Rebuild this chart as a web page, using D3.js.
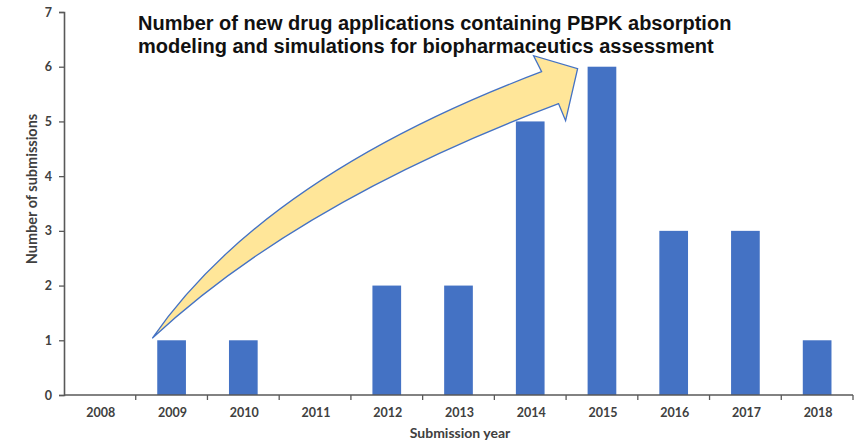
<!DOCTYPE html>
<html>
<head>
<meta charset="utf-8">
<script src="https://cdn.jsdelivr.net/npm/d3@7"></script>
<style>
  html, body { margin: 0; padding: 0; background: #fff; }
  svg { display: block; }
</style>
</head>
<body>
<svg id="chart" width="868" height="445"></svg>
<script>
const years = ["2008","2009","2010","2011","2012","2013","2014","2015","2016","2017","2018"];
const submissions = [0, 1, 1, 0, 2, 2, 5, 6, 3, 3, 1];
const yTicks = [0, 1, 2, 3, 4, 5, 6, 7];
const titleLines = [
  "Number of new drug applications containing PBPK absorption",
  "modeling and simulations for biopharmaceutics assessment"
];
const xTitle = "Submission year";
const yTitle = "Number of submissions";

(function () {
const svg = d3.select("#chart");
const mLeft = 64, mRight = 853, mTop = 12, mBottom = 395;

const x = d3.scaleBand().domain(years).range([mLeft, mRight]).paddingInner(0.6).paddingOuter(0.3);
const y = d3.scaleLinear().domain([0, 7]).range([mBottom, mTop]);

const axisColor = "#595959";
const labelColor = "#404040";
const font = "Lato, 'Open Sans', sans-serif";

// bars
svg.append("g").selectAll("rect").data(years).join("rect")
  .attr("x", d => x(d))
  .attr("width", x.bandwidth())
  .attr("y", (d, i) => y(submissions[i]))
  .attr("height", (d, i) => y(0) - y(submissions[i]))
  .attr("fill", "#4472C4");

// y axis
const yAxis = svg.append("g").attr("transform", `translate(${mLeft},0)`)
  .call(d3.axisLeft(y).tickValues(yTicks).tickSize(5).tickPadding(7).tickFormat(d3.format("d")));
yAxis.select(".domain").attr("stroke", axisColor).attr("stroke-width", 1.6);
yAxis.selectAll(".tick line").attr("stroke", axisColor).attr("stroke-width", 1.3);
yAxis.selectAll(".tick text").attr("fill", labelColor).attr("font-family", font)
  .attr("font-weight", "bold").attr("font-size", 12.5);

// x axis (ticks at category boundaries)
const step = x.step();
const xAxisG = svg.append("g");
xAxisG.append("line").attr("x1", mLeft).attr("x2", mRight).attr("y1", mBottom).attr("y2", mBottom)
  .attr("stroke", axisColor).attr("stroke-width", 1.6);
const boundaries = years.map(d => x(d) - step * 0.3).concat([mRight]);
xAxisG.selectAll("line.tk").data(boundaries.slice(1)).join("line").attr("class", "tk")
  .attr("x1", d => d).attr("x2", d => d).attr("y1", mBottom).attr("y2", mBottom + 5)
  .attr("stroke", axisColor).attr("stroke-width", 1.3);
xAxisG.selectAll("text").data(years).join("text")
  .attr("x", d => x(d) + x.bandwidth() / 2 + 1)
  .attr("y", 417)
  .attr("text-anchor", "middle")
  .attr("fill", labelColor).attr("font-family", font).attr("font-weight", "bold").attr("font-size", 12.5)
  .text(d => d);

// axis titles
svg.append("text").attr("x", 460).attr("y", 438).attr("text-anchor", "middle")
  .attr("fill", labelColor).attr("font-family", font).attr("font-weight", "bold").attr("font-size", 14)
  .text(xTitle);
svg.append("text").attr("transform", "translate(37,189) rotate(-90)").attr("text-anchor", "middle")
  .attr("fill", labelColor).attr("font-family", font).attr("font-weight", "bold").attr("font-size", 14.5)
  .text(yTitle);

// arrow annotation anchored to the 2009 and 2015 bars
const tail = [x("2009") - 5, y(1) - 2];
const tip = [x("2015") - 10, y(6) + 2];
const rel = (p, dx, dy) => [p[0] + dx, p[1] + dy];
const upJoin = rel(tip, -36, 3), loJoin = rel(tip, -19, 35);
const barbUp = rel(tip, -44, -13), barbLo = rel(tip, -12, 52);
const c1 = [tail[0] + 112, tail[1] - 162];
const c2 = [tail[0] + 147, tail[1] - 137];
const path = d3.path();
path.moveTo(...tail);
path.quadraticCurveTo(c1[0], c1[1], upJoin[0], upJoin[1]);
path.lineTo(...barbUp);
path.lineTo(...tip);
path.lineTo(...barbLo);
path.lineTo(...loJoin);
path.quadraticCurveTo(c2[0], c2[1], tail[0], tail[1]);
path.closePath();
svg.append("path").attr("d", path.toString())
  .attr("fill", "#FFE699").attr("stroke", "#4472C4").attr("stroke-width", 1.3)
  .attr("stroke-linejoin", "miter");

// title
svg.append("g").selectAll("text").data(titleLines).join("text")
  .attr("x", 138).attr("y", (d, i) => 30 + i * 23)
  .attr("font-family", "'Liberation Sans', Arial, sans-serif").attr("font-weight", "bold")
  .attr("font-size", 20).attr("fill", "#111")
  .text(d => d);
})();
</script>
</body>
</html>
